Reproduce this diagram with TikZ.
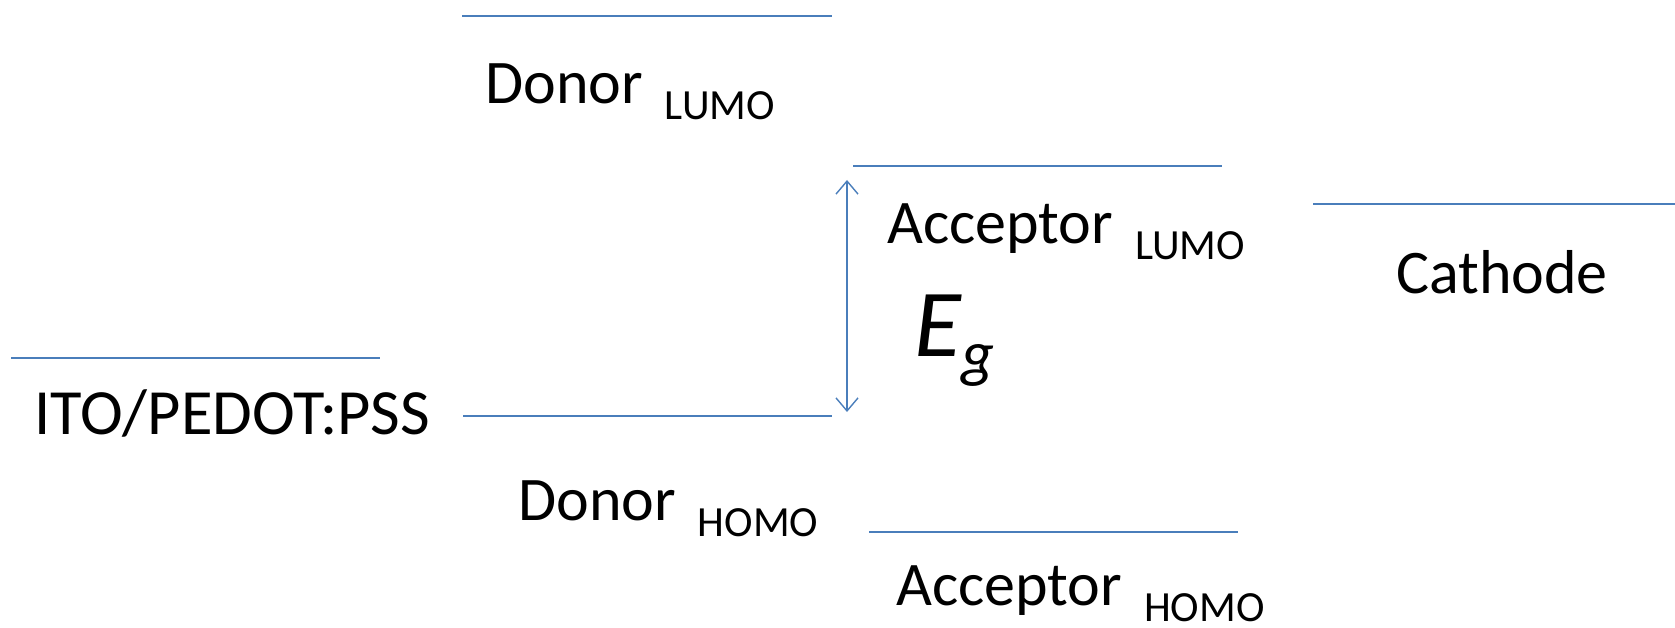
\documentclass[tikz,border=0pt]{standalone}
\usepackage{fontspec}
\setmainfont{Carlito}
\usetikzlibrary{arrows.meta}
\definecolor{lvl}{HTML}{4A7EBB}
\newcommand\subtxt[1]{\ \hspace{8pt}\raisebox{-16pt}{\fontsize{43}{47}\selectfont #1}}
\begin{document}
\begin{tikzpicture}[x=1pt,y=-1pt,
  level/.style={draw=lvl,line width=1.6pt},
  lbl/.style={anchor=base west,inner sep=0pt,font=\fontsize{62}{70}\selectfont},
  gap/.style={draw=lvl,line width=1.4pt,{Straight Barb[length=13pt,width=22pt]}-{Straight Barb[length=13pt,width=22pt]}}
]
\useasboundingbox (0,0) rectangle (1675,628);
% energy levels
\coordinate (dl1) at (462,16);   \coordinate (dl2) at (832,16);
\coordinate (al1) at (853,166);  \coordinate (al2) at (1222,166);
\coordinate (ca1) at (1313,204); \coordinate (ca2) at (1675,204);
\coordinate (it1) at (11,358);   \coordinate (it2) at (380,358);
\coordinate (dh1) at (463,416);  \coordinate (dh2) at (832,416);
\coordinate (ah1) at (869,532);  \coordinate (ah2) at (1238,532);
\draw[level] (dl1) -- (dl2);
\draw[level] (al1) -- (al2);
\draw[level] (ca1) -- (ca2);
\draw[level] (it1) -- (it2);
\draw[level] (dh1) -- (dh2);
\draw[level] (ah1) -- (ah2);
% band gap arrow
\coordinate (gt) at (847,180);
\coordinate (gb) at (847,412);
\draw[gap] (gt) -- (gb);
% labels
\node[lbl] (dlumo) at (485,104) {Donor\subtxt{LUMO}};
\node[lbl] (alumo) at (887,244) {Acceptor\subtxt{LUMO}};
\node[lbl] (cath) at (1396,294) {Cathode};
\node[lbl,font=\fontsize{64.5}{72}\selectfont] (ito) at (34,434) {ITO/PEDOT:PSS};
\node[lbl] (dhomo) at (518,520) {Donor\subtxt{HOMO}};
\node[lbl] (ahomo) at (896,605) {Acceptor\subtxt{HOMO}};
\node[anchor=base west,inner sep=0pt] (eg) at (914,356)
  {\fontsize{96}{104}\selectfont\itshape E\raisebox{-19pt}{\fontsize{64}{70}\selectfont g}};
\end{tikzpicture}
\end{document}
